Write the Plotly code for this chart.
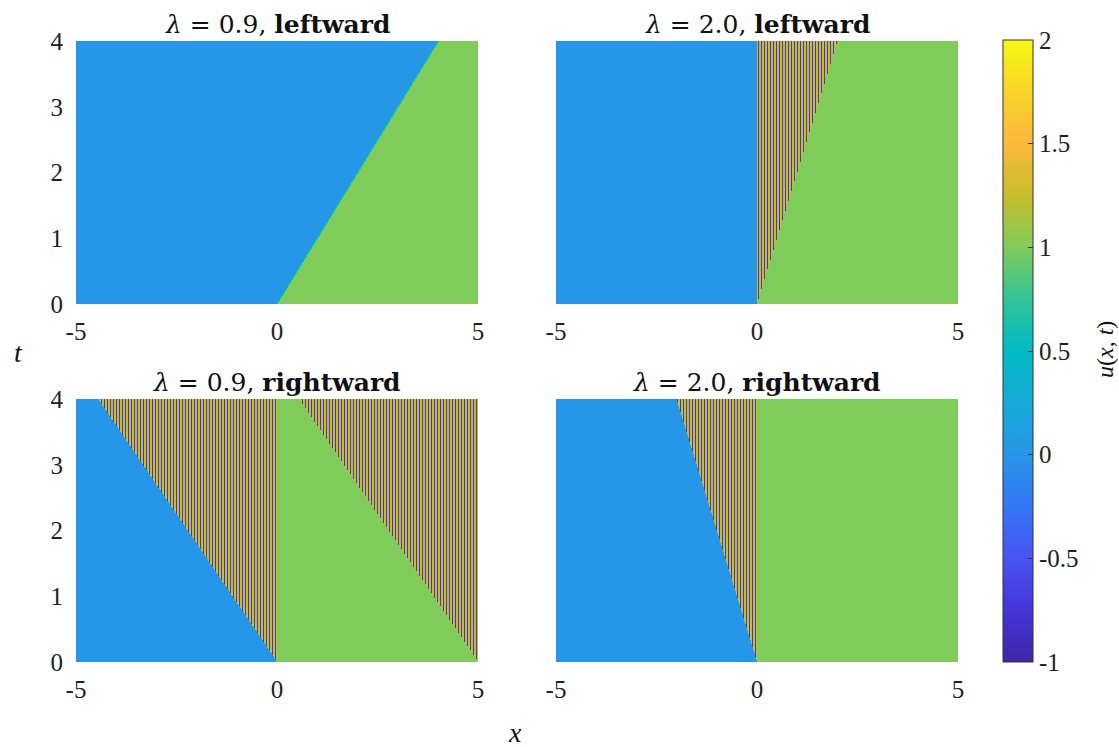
import numpy as np
import plotly.graph_objects as go

# ---- data ----
lambdas = ["0.9", "2.0", "0.9", "2.0"]
directions = ["leftward", "leftward", "rightward", "rightward"]
x_range = [-5, 5]
t_range = [0, 4]
x_ticks = [-5, 0, 5]
x_tick_text = ["-5", "0", "5"]
t_ticks = [0, 1, 2, 3, 4]
cb_ticks = [-1, -0.5, 0, 0.5, 1, 1.5, 2]
cb_tick_text = ["-1", "-0.5", "0", "0.5", "1", "1.5", "2"]
u_left_state = 0.0      # blue state
u_right_state = 1.0     # green state
u_front = 0.5           # thin transition value
osc_pattern = [1.24, -0.75, 1.24]   # grid-scale oscillation values (repeating in x)
# wave speeds (front position = speed * t)
front_speed_p1 = 1.0          # panel 1: blue|green front
osc_edge_p2 = [0.0, 0.5]      # panel 2: oscillating zone between these speeds
osc_edge_p3 = [-1.11, 0.0]    # panel 3: oscillating zone (left)
wrap_speed_p3 = -1.11         # panel 3: wrapped zone entering from x=5
osc_edge_p4 = [-0.5, 0.0]     # panel 4

nx, nt = 402, 263
dx = (x_range[1] - x_range[0]) / nx
x = x_range[0] + dx * (np.arange(nx) + 0.5)
t = np.linspace(t_range[0], t_range[1], nt)
X, T = np.meshgrid(x, t)
osc = np.array(osc_pattern)[np.arange(nx) % len(osc_pattern)][None, :] * np.ones((nt, 1))

def base():
    return np.where(X < 0, u_left_state, u_right_state).astype(float)

z1 = np.where(X < front_speed_p1 * T, u_left_state, u_right_state).astype(float)
z1[np.abs(X - front_speed_p1 * T) < dx * 0.8] = u_front
z2 = base()
m2 = (X > osc_edge_p2[0] * T) & (X < osc_edge_p2[1] * T)
z2[m2] = osc[m2]
z3 = base()
m3 = ((X > osc_edge_p3[0] * T) & (X < osc_edge_p3[1] * T)) | ((X > 0) & (X > x_range[1] + wrap_speed_p3 * T))
z3[m3] = osc[m3]
z4 = base()
m4 = (X > osc_edge_p4[0] * T) & (X < osc_edge_p4[1] * T)
z4[m4] = osc[m4]
zs = [np.round(z, 2) for z in (z1, z2, z3, z4)]

colorscale = [
    [0.0, "rgb(62,38,168)"],
    [0.083, "rgb(70,52,215)"],
    [0.167, "rgb(72,84,242)"],
    [0.25, "rgb(52,118,245)"],
    [0.333, "rgb(38,150,232)"],
    [0.417, "rgb(22,170,215)"],
    [0.5, "rgb(0,186,196)"],
    [0.583, "rgb(50,196,150)"],
    [0.667, "rgb(128,204,90)"],
    [0.75, "rgb(200,190,42)"],
    [0.833, "rgb(250,185,60)"],
    [0.917, "rgb(248,212,40)"],
    [1.0, "rgb(248,250,20)"],
]

W, H = 1119, 747
ML, MR, MT, MB = 60, 90, 40, 70
PW, PH = W - ML - MR, H - MT - MB

def fx(p):
    return (p - ML) / PW

def fy(p):
    return (H - MB - p) / PH

xdoms = [(fx(76), fx(478)), (fx(556), fx(958))]
ydoms = [(fy(304), fy(41)), (fy(662), fy(399))]
tick_font = dict(family="Liberation Serif", size=25, color="#222")
title_font = dict(family="DejaVu Serif", size=25, color="#111")

fig = go.Figure()
for i, z in enumerate(zs):
    r, c = divmod(i, 2)
    ax = "" if i == 0 else str(i + 1)
    fig.add_trace(go.Heatmap(
        x=x, y=t, z=z, zmin=-1, zmax=2, colorscale=colorscale, zsmooth=False,
        xaxis="x" + ax, yaxis="y" + ax, showscale=(i == 0), hoverinfo="skip",
        colorbar=dict(x=fx(1003), xanchor="left", xpad=0, ypad=0, thickness=30,
                      thicknessmode="pixels", y=fy(351), yanchor="middle",
                      len=622 / PH, lenmode="fraction",
                      tickvals=cb_ticks, ticktext=cb_tick_text, ticks="inside", ticklen=5,
                      tickcolor="#333", outlinecolor="#333", outlinewidth=1,
                      tickfont=tick_font),
    ))
    fig.layout["xaxis" + ax] = dict(domain=xdoms[c], range=x_range, anchor="y" + ax,
                                    tickvals=x_ticks, ticktext=x_tick_text, showgrid=False,
                                    zeroline=False, ticks="", showline=False,
                                    ticklabelstandoff=10, tickfont=tick_font)
    fig.layout["yaxis" + ax] = dict(domain=ydoms[r], range=t_range, anchor="x" + ax,
                                    tickvals=t_ticks, showticklabels=(c == 0), showgrid=False,
                                    zeroline=False, ticks="", showline=False,
                                    ticklabelstandoff=12, tickfont=tick_font)
    fig.add_annotation(text="<i>λ</i> = " + lambdas[i] + ", <b>" + directions[i] + "</b>",
                       x=(xdoms[c][0] + xdoms[c][1]) / 2, y=ydoms[r][1], xref="paper", yref="paper",
                       xanchor="center", yanchor="bottom", yshift=0, showarrow=False,
                       font=title_font)

fig.add_annotation(text="<i>t</i>", x=fx(18), y=fy(352), xref="paper", yref="paper",
                   xanchor="center", yanchor="middle", showarrow=False,
                   font=dict(family="Liberation Serif", size=28, color="#111"))
fig.add_annotation(text="<i>x</i>", x=fx(515), y=fy(733), xref="paper", yref="paper",
                   xanchor="center", yanchor="middle", showarrow=False,
                   font=dict(family="Liberation Serif", size=28, color="#111"))
fig.add_annotation(text="<i>u</i>(<i>x</i>, <i>t</i>)", x=fx(1105), y=fy(350),
                   xref="paper", yref="paper", textangle=-90, showarrow=False,
                   xanchor="center", yanchor="middle",
                   font=dict(family="Liberation Serif", size=24, color="#111"))

fig.update_layout(width=W, height=H, margin=dict(l=ML, r=MR, t=MT, b=MB),
                  paper_bgcolor="white", plot_bgcolor="white", showlegend=False)
fig.write_html("out.html", config={"displayModeBar": False},
               post_script="document.body.style.margin='0';")
